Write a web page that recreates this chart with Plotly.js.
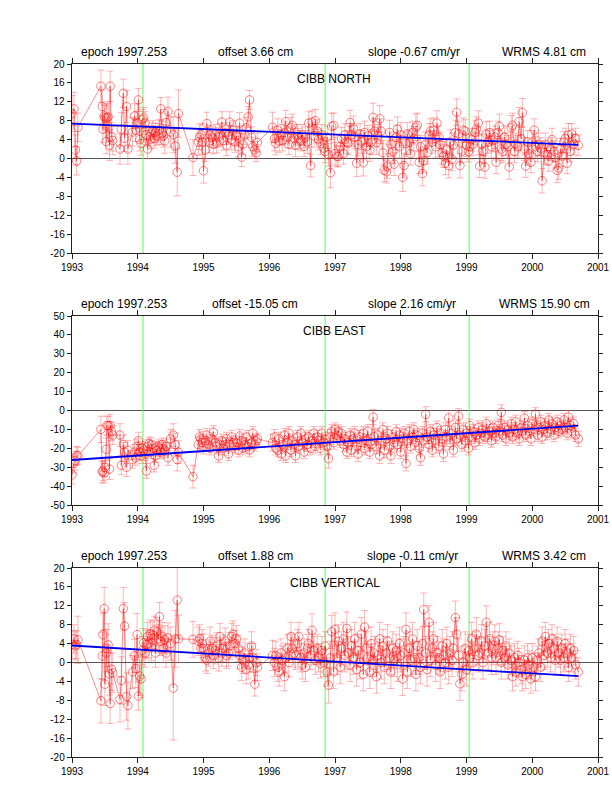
<!DOCTYPE html>
<html><head><meta charset="utf-8">
<script src="https://cdn.plot.ly/plotly-3.0.1.min.js"></script>
<style>html,body{margin:0;padding:0;background:#fff}</style>
</head><body><div id="chart" style="width:612px;height:792px"></div>
<script>
const epochs = [
1993.00,1993.03,1993.05,1993.07,1993.09,1993.44,1993.46,1993.47,1993.49,1993.50,
1993.52,1993.53,1993.55,1993.57,1993.58,1993.60,1993.62,1993.73,1993.75,1993.78,
1993.80,1993.83,1993.85,1993.92,1993.95,1993.97,1993.99,1994.01,1994.03,1994.05,
1994.07,1994.09,1994.11,1994.13,1994.15,1994.17,1994.19,1994.21,1994.23,1994.25,
1994.27,1994.29,1994.31,1994.33,1994.35,1994.37,1994.39,1994.41,1994.43,1994.46,
1994.50,1994.54,1994.57,1994.60,1994.62,1994.84,1994.92,1994.94,1994.96,1994.98,
1995.00,1995.03,1995.05,1995.08,1995.10,1995.13,1995.15,1995.18,1995.20,1995.23,
1995.25,1995.28,1995.30,1995.33,1995.35,1995.38,1995.40,1995.43,1995.45,1995.48,
1995.50,1995.53,1995.55,1995.58,1995.60,1995.63,1995.65,1995.68,1995.70,1995.73,
1995.75,1995.78,1995.80,1995.82,1996.05,1996.08,1996.10,1996.13,1996.15,1996.18,
1996.20,1996.23,1996.25,1996.28,1996.30,1996.33,1996.35,1996.38,1996.40,1996.43,
1996.45,1996.48,1996.50,1996.53,1996.55,1996.58,1996.60,1996.63,1996.65,1996.68,
1996.70,1996.73,1996.75,1996.78,1996.80,1996.83,1996.85,1996.88,1996.90,1996.93,
1996.95,1996.98,1997.00,1997.03,1997.05,1997.08,1997.10,1997.13,1997.15,1997.18,
1997.20,1997.23,1997.25,1997.28,1997.30,1997.33,1997.35,1997.38,1997.40,1997.43,
1997.45,1997.48,1997.50,1997.53,1997.55,1997.58,1997.60,1997.63,1997.65,1997.68,
1997.70,1997.73,1997.75,1997.78,1997.80,1997.83,1997.85,1997.88,1997.90,1997.93,
1997.95,1997.98,1998.00,1998.03,1998.05,1998.08,1998.10,1998.13,1998.15,1998.18,
1998.20,1998.23,1998.25,1998.28,1998.30,1998.33,1998.35,1998.38,1998.40,1998.43,
1998.45,1998.48,1998.50,1998.53,1998.55,1998.58,1998.60,1998.63,1998.65,1998.68,
1998.70,1998.73,1998.75,1998.78,1998.80,1998.83,1998.85,1998.88,1998.90,1998.93,
1998.95,1998.98,1999.00,1999.03,1999.05,1999.08,1999.10,1999.13,1999.15,1999.18,
1999.20,1999.23,1999.25,1999.28,1999.30,1999.33,1999.35,1999.38,1999.40,1999.43,
1999.45,1999.48,1999.50,1999.53,1999.55,1999.58,1999.60,1999.63,1999.65,1999.68,
1999.70,1999.73,1999.75,1999.78,1999.80,1999.83,1999.85,1999.88,1999.90,1999.93,
1999.95,1999.98,2000.00,2000.03,2000.05,2000.08,2000.10,2000.13,2000.15,2000.18,
2000.20,2000.23,2000.25,2000.28,2000.30,2000.33,2000.35,2000.38,2000.40,2000.43,
2000.45,2000.48,2000.50,2000.53,2000.55,2000.58,2000.60,2000.63,2000.66,2000.70];
const north = [
9.5,10.5,1.8,-0.5,6.6,15.3,11,6.2,9,8.6,
3.6,8.6,8.8,2.8,15.3,4.6,3.8,2,6.2,13.8,
4.3,11,2,5.6,9,6,7.5,12.4,4,3.2,
8.2,8.6,7.5,5,2,4.6,4,5.5,6,4.2,
5.5,4.8,5.2,6,10.5,5.4,4.8,3.7,7.6,10,
5.6,5,2.6,-2.9,9.5,0.2,3.5,4.5,5,3.5,
-2.6,1.8,7.4,3.5,5,4.5,3,5,3.2,4.6,
5.2,7.7,3.8,5.5,2.8,5,7.7,4,6,3.5,
4.8,2.5,7.5,0.3,3,5,6.5,8.8,12.4,4.5,
2.5,1.8,1.2,3.4,6.6,4.2,3.2,6,3.7,5,
3.8,5.5,7.8,4.5,3,6.5,7,4.2,2.8,5,
4.2,3.8,5,2.6,4.5,3.5,7.5,-1.5,7.7,4.8,
8,5.8,4,3.2,5,2.2,1.5,4.5,0.8,-3,
6.8,7,1,0.5,0.4,2.5,4.2,1,5,3.5,
3.2,7.6,5,6.4,4.5,-1,3,5.2,3.5,-0.9,
5.5,2.5,4.8,1.8,3.5,8.7,5.8,3.4,4.8,8.4,
5.8,1.2,-2.5,-2.8,-1.6,5.5,3,1.5,-1.2,4.5,
6.2,2.5,5,-4,-1.5,3.2,5.2,3.4,1,5.5,
4.2,6.6,7,-0.8,2.5,-3.2,-0.5,3,1.2,5,
5.8,3.5,6,2.5,7.5,4.5,3,1.2,0.5,-1,
1.8,-1.5,3.5,-0.2,2.8,5.5,9.8,5.2,-1.5,1.5,
6,5.8,2.8,1.5,2.5,4,3,5.5,6.2,7.5,
-1.6,3,1.5,-1.8,5.2,3.5,5.5,2.5,3.8,4.5,
-0.8,5.5,6.8,2,1.5,4.5,3,2.5,-1.8,6.5,
7,1.5,3,2.5,7.8,4.2,9.7,2,-1.6,3.5,
1,-0.8,3.5,6,2.5,1.5,3,2.2,-4.7,1.2,
3,0.8,-0.5,2,4,1.5,0.2,-2.5,-2,2,
0.5,3.5,4.2,-1,5,1.5,5.2,3,4.2,2.8];
const northErr = [
3.8,3.5,3.2,3,3,3.4,3.5,2.8,2.5,2.6,
2.6,3,3.2,3.2,3.2,3,3,3.2,3.5,3,
2.8,3.4,3.2,3,2.6,2.4,2.4,2.4,2.4,2.5,
2.2,2.2,2.4,2,2,2,2,2,2,2,
2,2,2.2,2.2,2.4,2.4,2.4,2.6,2.8,3,
3.2,3.8,3.6,5,5,3.8,2.8,2.6,2.4,2.6,
2.6,2.4,2.4,2.2,2,2.2,2,2.2,2,2,
2.2,2.2,2,2,2.2,2,2.2,2.2,2,2.2,
2,2.2,2.2,2,2.2,2,2.2,2.2,2,2.2,
2,1.8,1.8,2,3.2,2.6,2.4,2.4,2.4,2.2,
2.2,2.4,2.4,2.2,2.2,2.2,2.4,2.2,2.4,2.2,
2.2,2.2,2.2,2.2,2.2,2.4,2.4,2.4,2.4,2.4,
2.4,2.4,2.2,2.4,2.2,2.2,2.4,2.4,2.4,3.2,
2.8,2.6,2.4,2.2,2.2,2.4,2.4,2.2,2.4,2.4,
2.4,2.6,2.4,2.6,2.4,2.8,2.4,2.2,2.4,2.8,
2.4,2.4,2.2,2.4,2.6,3,2.6,2.6,2.4,2.8,
2.6,2.6,2.4,2.4,2.6,2.6,2.6,2.6,2.4,2.6,
2.6,2.4,2.6,3,2.6,2.4,2.4,2.6,2.4,2.4,
2.6,2.8,2.6,2.4,2.4,2.6,2.4,2.6,2.4,2.4,
2.6,2.4,2.6,2.4,2.6,2.4,2.6,2.4,2.4,2.4,
2.4,2.6,2.6,2.4,2.6,2.6,2.8,2.6,2.6,2.4,
2.6,2.4,2.4,2.2,2.6,2.4,2.4,2.6,2.6,2.6,
2.4,2.2,2.4,2.4,2.6,2.4,2.4,2.4,2.4,2.4,
2.4,2.4,2.6,2.4,2.4,2.4,2.4,2.4,2.6,2.6,
2.6,2.4,2.4,2.4,3,2.4,3,2.4,2.4,2.4,
2.4,2.2,2.4,2.4,2.2,2.2,2.4,2.2,2.6,2.4,
2.4,2.2,2.2,2.4,2.4,2.2,2.2,2.6,2.4,2.2,
2.2,2.2,2.2,2.2,2.4,2.2,2.2,2.2,2.2,2.2];
const east = [
-34,-28,-26.5,-24,-24,-10,-32.5,-32,-33,-30,
-20.5,-8,-8,-31,-8,-11,-13,-13,-29,-18,
-22,-30,-21,-26,-22,-25,-19,-16,-22,-24,
-20,-21,-23,-32,-19,-17.5,-22,-18,-20,-29,
-24,-21,-19,-20,-22,-18,-20,-21,-19,-25,
-15,-13,-18,-26,-22,-35,-18,-14,-15,-17,
-19,-16,-13,-18,-20,-15,-11.5,-17,-19,-24,
-18,-16,-20,-18,-15,-23,-18,-14,-17,-19,
-17,-21,-13.5,-16,-20,-18,-14,-19,-21,-17,
-12,-18,-16,-15,-17,-14,-20,-21,-15,-23,
-18,-13,-24,-17,-12,-21,-16,-18,-24,-14,
-19,-12,-17,-22,-15,-18,-14,-20,-16,-12,
-19,-14,-16,-20,-12,-17,-15,-19,-25.5,-14,
-11,-17,-10,-13,-11,-16,-12,-18,-15,-22,
-17,-13,-21,-15,-12,-19,-23,-14,-17,-12,
-20,-16,-11,-22,-18,-3.5,-14,-19,-13,-24,
-16,-10,-21,-15,-12,-19,-24,-14,-17,-11,
-18,-13,-22,-15,-12,-28,-16,-11,-19,-14,
-10,-17,-13,-20,-25,-12,-16,-2,-14,-18,
-11,-21,-13,-16,-9,-19,-12,-15,-23,-10,
-14,-4,-17,-12,-21,-9,-15,-3,-13,-18,
-10,-16,-12,-20,-8,-14,-11,-17,-13,-9,
-15,-12,-10,-14,-7,-13,-11,-16,-9,-12,
-14,-8,-11,-1,-13,-9,-15,-10,-12,-7,
-14,-10,-6,-12,-15,-9,-11,-4,-13,-8,
-11,-15,-7,-10,-2,-13,-9,-6,-14,-10,
-8,-12,-5,-10,-7,-13,-9,-6,-11,-8,
-10,-5,-9,-12,-3.5,-8,-11,-7,-13,-15];
const eastErr = [
5,5,5,5,4.5,7,6,5,5,5,
6,5,5,5.5,6,5,5,6,5,5,
5,5,5,4.5,4,4,4,4.5,4,4,
3.5,3.5,3.5,4,3.5,3.5,3.5,3.5,3.5,3.5,
3.5,3.5,3.5,3.5,3.5,3.5,4,4,4,4,
5,6,6,6,6,6,4,4,4,3.5,
4,3.5,3.5,3.5,3.5,3.5,3.5,3.5,3.5,3.5,
3.5,3.5,3.5,3.5,3.5,3.5,3.5,3.5,3.5,3.5,
3.5,3.5,3.5,3.5,3.5,3.5,3.5,3.5,3.5,3.5,
3.5,3.5,3,3,4.5,4,3.5,3.5,3.5,3.5,
3.5,3.5,3.5,3.5,3.5,3.5,3.5,3.5,3.5,3.5,
3.5,3.5,3.5,3.5,3.5,3.5,3.5,3.5,3.5,3.5,
3.5,3.5,3.5,3.5,3.5,3.5,3.5,4,5,4,
3.5,3.5,3.5,3.5,3.5,3.5,3.5,3.5,3.5,3.5,
3.5,3.5,3.5,3.5,3.5,3.5,4,3.5,3.5,3.5,
3.5,3.5,3.5,3.5,3.5,4,4,4,3.5,4,
3.5,3.5,4,3.5,3.5,4,4,3.5,3.5,3.5,
3.5,3.5,3.5,3.5,3.5,4,3.5,3.5,3.5,3.5,
3.5,3.5,3.5,3.5,4,3.5,3.5,4,3.5,3.5,
3.5,3.5,3.5,3.5,3.5,3.5,3.5,3.5,4,3.5,
3.5,4,3.5,3.5,3.5,3.5,3.5,4,3.5,3.5,
3.5,3.5,3.5,3.5,3.5,3.5,3.5,3.5,3.5,3.5,
3.5,3.5,3.5,3.5,3.5,3.5,3.5,3.5,3.5,3.5,
3.5,3.5,3.5,4,3.5,3.5,3.5,3.5,3.5,3.5,
3.5,3.5,3.5,3.5,3.5,3.5,3.5,3.5,3.5,3.5,
3.5,3.5,3.5,3.5,3.5,3.5,3.5,3.5,3.5,3.5,
3.5,3.5,3.5,3.5,3.5,3.5,3.5,3.5,3.5,3.5,
3.5,3.5,3.5,3.5,3.5,3.5,3.5,3.5,3.5,4];
const vertical = [
3.8,5,3.5,3.8,4.8,-8.1,1.4,5.9,11.4,-4.6,
2,3,3.7,-2.4,-8.7,-1.4,-2.2,-7.8,-3.8,11.4,
7.7,-7.2,-9.1,-2,1.4,-1.3,5.9,-7.1,-2.9,-3.5,
2.5,4.2,2,3.8,5.5,4,6,3.2,5.8,6.8,
2,6.5,5,9.7,4.5,5.5,3,4.8,2,5.2,
4,-5.4,5,13.2,5,4.9,4.5,5,3,4,
3,1,0.5,2,4.5,3,1.5,2.5,3.5,1,
5.5,2,3,4.5,1.5,2,3.5,5.5,6,4,
5,3,1.5,-1,0.5,2,-1.5,-0.5,1,3.5,
1,-4.6,0,-1,1.5,0,1.5,-1,-2,2,
0.5,-3,1,3,0,5.5,3,2,1.5,4,
5.5,1,-0.5,2,-1,3,4,1.5,6.8,2.5,
0.5,3,1,-0.3,2.5,0,3.5,-2,-4.8,1,
6.5,-2,7,1,4.5,-1,3,5,1.5,7.2,
2,-0.5,3.5,1,5,-1.5,2.5,0,6,-2.5,
7.5,3,1,-2,4,0.5,2,-3,1.5,5,
0,3.5,-1,2,4.5,1,-2,3,0.5,2.5,
-0.5,4,1.5,-3.5,2,7,-2,3,0.5,5,
1,-2.5,3.5,1,-1,4,11.2,2,-1.5,8.5,
0.5,3,5,-0.5,2,1,-2,3.5,1.5,0,
4,-1,2,0.5,3,9.5,6,1.5,-4.5,-2.5,
0,3,-1.5,2.5,1,5,0,3,6,1.5,
2,4.5,0,3.5,8.5,2,5,1,3,4.5,
1,3,4.8,0,2.5,1,3.5,-0.5,2,0.5,
-3,1,-2,1.5,0,-1.5,-3,0.5,-2.5,1,
-0.5,-3.5,1,-1,-3,0.5,2,-1,4.5,1.5,
5.5,2,4,1,5,3,0.5,4.5,2,0.5,
3,1,4,2,-1,3,1,2.5,-0.5,-2];
const verticalErr = [
3,3,3,3,5,4.7,5,4.5,4.5,4.5,
4,4,4.5,4.5,4.2,4.5,4.2,4.8,5,4.5,
5,5,5,3.5,3.5,4,4.5,3,4,4,
3,3,3,3,3,3,3,2.8,3,3,
3,3,3,3,3,3,3,3,3,3.2,
3.5,11,6,8,5,3.8,3,3,3,3,
3,2.8,2.8,2.8,3,2.8,2.8,2.8,2.8,2.8,
2.8,2.8,2.8,2.8,2.8,2.8,2.8,2.8,2.8,2.8,
2.8,2.8,2.8,2.8,2.8,3,3,3,3,3,
3,2.5,2.8,2.8,3.2,3,3,3,3,3,
3,3,3,3,3,3,3,3,3,3,
3,3,3,3,3,3,3,3,3.5,3,
3,3,3,3,3,3,3,3,3.8,3.5,
3.5,3.5,3.5,3.5,3.5,3.5,3.5,3.5,3.5,3.5,
3.5,3.5,3.5,3.5,3.5,3.5,3.5,3.5,3.5,3.5,
3.5,3.5,3.5,3.5,3.5,3.5,3.5,3.5,3.5,3.5,
3.5,3.5,3.5,3.5,3.5,3.5,3.5,3.5,3.5,3.5,
3.5,3.5,3.5,3.5,3.5,3.5,3.5,3.5,3.5,3.5,
3.5,3.5,3.5,3.5,3.5,3.5,3.5,3.5,3.5,3.5,
3.5,3.5,3.5,3.5,3.5,3.5,3.5,3.5,3.5,3.5,
3.5,3.5,3.5,3.5,3.5,3.5,3.5,3.5,3.5,3.5,
3.5,3.5,3.5,3.5,3.5,3.5,3.5,3.5,3.5,3.5,
3.5,3.5,3.5,3.5,3.5,3.5,3.5,3.5,3.5,3.5,
3.5,3.5,3.5,3.5,3,3,3,3,3,3,
3,3,3,3,3,3,3,3,3,3,
3,3,3,3,3,3,3,3,3,3,
3,3,3,3,3,3,3,3,3,3,
3,3,3,3,3,3,3,3,3,3];
const trendX = [1993.0, 2000.7];
const trendNorth = [7.4, 2.9];
const trendEast = [-26.2, -8];
const trendVertical = [3.6, -2.9];
const breaks = [1994.08, 1996.85, 1999.04];
const yearTicks = [1993,1994,1995,1996,1997,1998,1999,2000,2001];
const tickNorth = [-20,-16,-12,-8,-4,0,4,8,12,16,20];
const tickEast = [-50,-40,-30,-20,-10,0,10,20,30,40,50];
const panelNames = ['CIBB NORTH','CIBB EAST','CIBB VERTICAL'];
const offsets = ['offset 3.66 cm','offset -15.05 cm','offset 1.88 cm'];
const slopes = ['slope -0.67 cm/yr','slope 2.16 cm/yr','slope -0.11 cm/yr'];
const wrms = ['WRMS 4.81 cm','WRMS 15.90 cm','WRMS 3.42 cm'];

const W = 612, H = 792;
const FONT = '"Liberation Sans", Arial, sans-serif';
const panels = [
  {y:north, e:northErr, t:trendNorth, ticks:tickNorth, top:64, bottom:253, offX:216, slX:366, wrX:500, nameX:295},
  {y:east, e:eastErr, t:trendEast, ticks:tickEast, top:316, bottom:505, offX:210, slX:366, wrX:497, nameX:301},
  {y:vertical, e:verticalErr, t:trendVertical, ticks:tickNorth, top:568, bottom:757, offX:216, slX:365, wrX:500, nameX:288}
];
const traces = [], annotations = [], layout = {
  width:W, height:H, margin:{l:0,r:0,t:0,b:0}, showlegend:false,
  paper_bgcolor:'#fff', plot_bgcolor:'#fff', font:{family:FONT,size:10,color:'#000'}
};
panels.forEach((p,i)=>{
  const n = i ? String(i+1) : '';
  const xa = 'x'+n, ya = 'y'+n;
  const lo = p.ticks[0], hi = p.ticks[p.ticks.length-1];
  breaks.forEach(b=>traces.push({x:[b,b],y:[lo,hi],xaxis:xa,yaxis:ya,mode:'lines',
    line:{color:'#55ff55',width:1},hoverinfo:'skip'}));
  traces.push({x:epochs,y:p.y,xaxis:xa,yaxis:ya,mode:'lines+markers',
    line:{color:'rgba(255,0,0,0.5)',width:0.9},
    marker:{symbol:'circle-open',size:8.5,color:'rgba(255,0,0,0.7)',line:{width:0.7,color:'rgba(255,0,0,0.7)'}},
    error_y:{type:'data',array:p.e,visible:true,color:'rgba(255,60,60,0.42)',thickness:0.9,width:3.5}});
  traces.push({x:trendX,y:p.t,xaxis:xa,yaxis:ya,mode:'lines',line:{color:'#0000ee',width:1.8}});
  layout['xaxis'+n] = {domain:[72/W,598/W],range:[1993,2001],tickmode:'array',tickvals:yearTicks,
    ticktext:yearTicks.map(String),ticks:'outside',ticklen:5,tickwidth:1,tickcolor:'#222',
    mirror:'allticks',showline:true,linecolor:'#222',linewidth:1.3,showgrid:false,zeroline:false,
    anchor:ya,tickfont:{family:FONT,size:10,color:'#000'}};
  layout['yaxis'+n] = {domain:[1-p.bottom/H,1-p.top/H],range:[lo,hi],tickmode:'array',tickvals:p.ticks,
    ticktext:p.ticks.map(String),ticks:'outside',ticklen:4,tickwidth:1,tickcolor:'#222',
    mirror:'allticks',showline:true,linecolor:'#222',linewidth:1.3,showgrid:false,
    zeroline:true,zerolinecolor:'#555',zerolinewidth:1,anchor:xa,tickfont:{family:FONT,size:10,color:'#000'}};
  const add=(text,x,y)=>annotations.push({text,x:x/W,y:1-y/H,xref:'paper',yref:'paper',xanchor:'left',yanchor:'middle',
    showarrow:false,font:{family:FONT,size:12,color:'#000'}});
  add('epoch 1997.253',79,p.top-12);
  add(offsets[i],p.offX,p.top-12);
  add(slopes[i],p.slX,p.top-12);
  add(wrms[i],p.wrX,p.top-12);
  add(panelNames[i],p.nameX,p.top+15);
});
layout.annotations = annotations;
Plotly.newPlot('chart',traces,layout,{staticPlot:true,displayModeBar:false});
</script></body></html>
